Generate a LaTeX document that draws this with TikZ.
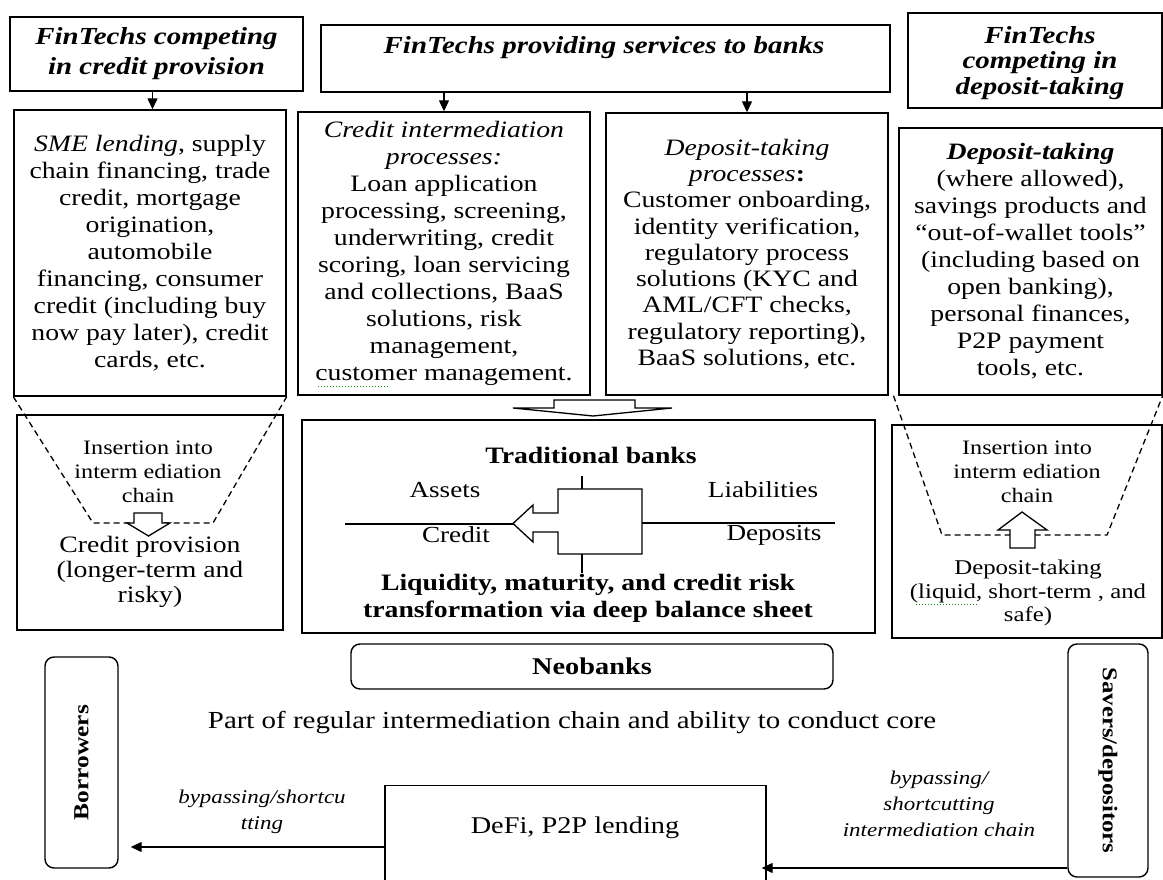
\documentclass[tikz,border=0pt]{standalone}
\usepackage{fontspec}
\setmainfont{Liberation Serif}[FakeStretch=1.18]
\usepackage{graphicx}
\usetikzlibrary{arrows.meta,calc}

\tikzset{
  box/.style={draw, line width=1.4pt, inner sep=0pt, align=center},
  hdbox/.style={box, font=\fontsize{24.5}{30}\selectfont\bfseries\itshape},
  midbox/.style={box, font=\fontsize{23.5}{27}\selectfont},
  rbox/.style={box, rounded corners=9pt},
  txt/.style={inner sep=0pt, align=center, font=\fontsize{23}{26}\selectfont},
  hdtxt/.style={txt, font=\fontsize{24.5}{30}\selectfont\bfseries\itshape},
  smalltxt/.style={txt, font=\fontsize{20.5}{24}\selectfont},
  bigtxt/.style={txt, font=\fontsize{24.5}{28}\selectfont},
  boldtxt/.style={txt, font=\fontsize{23.5}{27}\selectfont\bfseries},
  lbl/.style={txt, font=\fontsize{19.5}{26}\selectfont\itshape},
  arr/.style={line width=1.3pt, -{Triangle[length=11pt,width=10pt]}},
  dashln/.style={line width=1.3pt, dash pattern=on 6pt off 4pt},
  blk/.style={line width=1.3pt, fill=white, line join=miter},
  ln/.style={line width=1.3pt},
  squiggle/.style={green!60!black, line width=1pt, dotted}
}

\begin{document}
\begin{tikzpicture}[x=1pt,y=-1pt]
\useasboundingbox (0,0) rectangle (1163,880);

% top row
\node[hdbox, minimum width=293pt, minimum height=74pt] (crd) at (156.5,54) {FinTechs competing\\in credit provision};
\node[box, minimum width=569pt, minimum height=67pt] (svc) at (605.5,58.5) {};
\node[hdtxt] (svctxt) at (604,48) {FinTechs providing services to banks};
\node[box, minimum width=254pt, minimum height=95pt] (dep) at (1035,60.5) {};
\node[hdtxt, font=\fontsize{24.5}{25.5}\selectfont\bfseries\itshape] (deptxt) at (1040,63) {FinTechs\\competing in\\deposit-taking};

% middle row
\node[midbox, minimum width=272pt, minimum height=286pt] (sme) at (150,253) {\textit{SME lending}, supply\\chain financing, trade\\credit, mortgage\\origination,\\automobile\\financing, consumer\\credit (including buy\\now pay later), credit\\cards, etc.};
\node[midbox, minimum width=292pt, minimum height=283pt] (bnkcr) at (444,253.5) {\textit{Credit intermediation}\\\textit{processes:}\\Loan application\\processing, screening,\\underwriting, credit\\scoring, loan servicing\\and collections, BaaS\\solutions, risk\\management,\\customer management.};
\node[midbox, minimum width=282pt, minimum height=282pt, font=\fontsize{23.5}{26.3}\selectfont] (bnkdp) at (747,254) {\textit{Deposit-taking}\\\textit{processes}\textbf{:}\\Customer onboarding,\\identity verification,\\regulatory process\\solutions (KYC and\\AML/CFT checks,\\regulatory reporting),\\BaaS solutions, etc.};
\node[midbox, minimum width=263pt, minimum height=267pt] (wal) at (1030.5,261.5) {\textbf{\textit{Deposit-taking}}\\(where allowed),\\savings products and\\“out-of-wallet tools”\\(including based on\\open banking),\\personal finances,\\P2P payment\\tools, etc.};

\draw[arr] ([xshift=-4pt]crd.south) -- ([xshift=-4pt]crd.south |- sme.north);
\draw[arr] (svc.south -| bnkcr.north) -- (bnkcr.north);
\draw[arr] (svc.south -| bnkdp.north) -- (bnkdp.north);

% lower row
\node[box, minimum width=266pt, minimum height=215pt] (crprov) at (150,522.5) {};
\node[box, minimum width=573pt, minimum height=213pt] (trad) at (588.5,526.5) {};
\node[box, minimum width=270pt, minimum height=213pt] (dptake) at (1027,531.5) {};

\draw[blk] (554,400) -- (635,400) -- (635,408) -- (672,408) -- (593,416) -- (513,408) -- (554,408) -- cycle;

% credit provision
\draw[dashln] (sme.south west) -- (93,523) -- (213,523) -- (sme.south east);
\node[smalltxt] (insl) at (148,472) {Insertion into\\interm ediation\\chain};
\draw[blk] (134,513) -- (162,513) -- (162,523) -- (170,523) -- (148.5,536) -- (127,523) -- (134,523) -- cycle;
\node[txt, font=\fontsize{23.5}{25}\selectfont] (crtxt) at (150,572) {Credit provision\\(longer-term and\\risky)};

% deposit-taking
\draw[dashln] ($(bnkdp.south east)!.5!(wal.south west)$) -- (942,535) -- (1107,535) -- (wal.south east);
\node[smalltxt] (insr) at (1027,472) {Insertion into\\interm ediation\\chain};
\draw[blk] (1010,548) -- (1010,530) -- (998,530) -- (1022,512) -- (1047,530) -- (1035,530) -- (1035,548) -- cycle;
\node[txt, font=\fontsize{21}{23.5}\selectfont] (dptxt) at (1028,593) {Deposit-taking\\(liquid, short-term , and\\safe)};
\draw[squiggle] (916,604) -- (979,604);

% traditional banks
\node[boldtxt] (tbank) at (591,455) {Traditional banks};
\draw[ln] (582,476) -- (582,489);
\draw[ln] (558,513) -- (558,489) -- (642,489) -- (642,554) -- (558,554) -- (558,532) -- (533,532) -- (533,542) -- (513,523.5) -- (533,505) -- (533,513) -- cycle;
\draw[ln] (582,554) -- (582,573);
\draw[ln] (345,524) -- (513,524);
\draw[ln] (642,523) -- (835,523);
\node[txt] (assets) at (445,490) {Assets};
\node[txt] (liab) at (763,490) {Liabilities};
\node[txt] (credit) at (456,535) {Credit};
\node[txt] (deposits) at (774,535) {Deposits};
\node[boldtxt] (transf) at (588,598.5) {Liquidity, maturity, and credit risk\\transformation via deep balance sheet};
\draw[squiggle] (318,386) -- (390,386);

% bottom part
\node[rbox, minimum width=482pt, minimum height=45pt, font=\fontsize{24}{28}\selectfont\bfseries] (neo) at (592,666.5) {Neobanks};
\node[bigtxt] (core) at (572,723) {Part of regular intermediation chain and ability to conduct core};
\node[rbox, minimum width=73pt, minimum height=211pt, font=\fontsize{21.5}{26}\selectfont\bfseries] (brw) at (81.5,762.5) {\rotatebox{90}{Borrowers}};
\node[rbox, minimum width=80pt, minimum height=233pt, font=\fontsize{21}{26}\selectfont\bfseries] (svr) at (1108,760.5) {\rotatebox{-90}{Savers/depositors}};
\node[box, minimum width=381pt, minimum height=110pt, anchor=north] (defi) at (575.5,785) {};
\node[txt, font=\fontsize{24}{28}\selectfont] (defitxt) at (575,828) {DeFi, P2P lending};

\draw[arr, shorten >=12pt] (defi.west |- 0,847) -- (brw.east |- 0,847);
\draw[arr, shorten >=-5pt] (svr.west |- 0,868) -- (defi.east |- 0,868);
\node[lbl] (bypl) at (262,812) {bypassing/shortcu\\tting};
\node[lbl] (bypr) at (939,804) {bypassing/\\shortcutting\\intermediation chain};
\end{tikzpicture}
\end{document}
